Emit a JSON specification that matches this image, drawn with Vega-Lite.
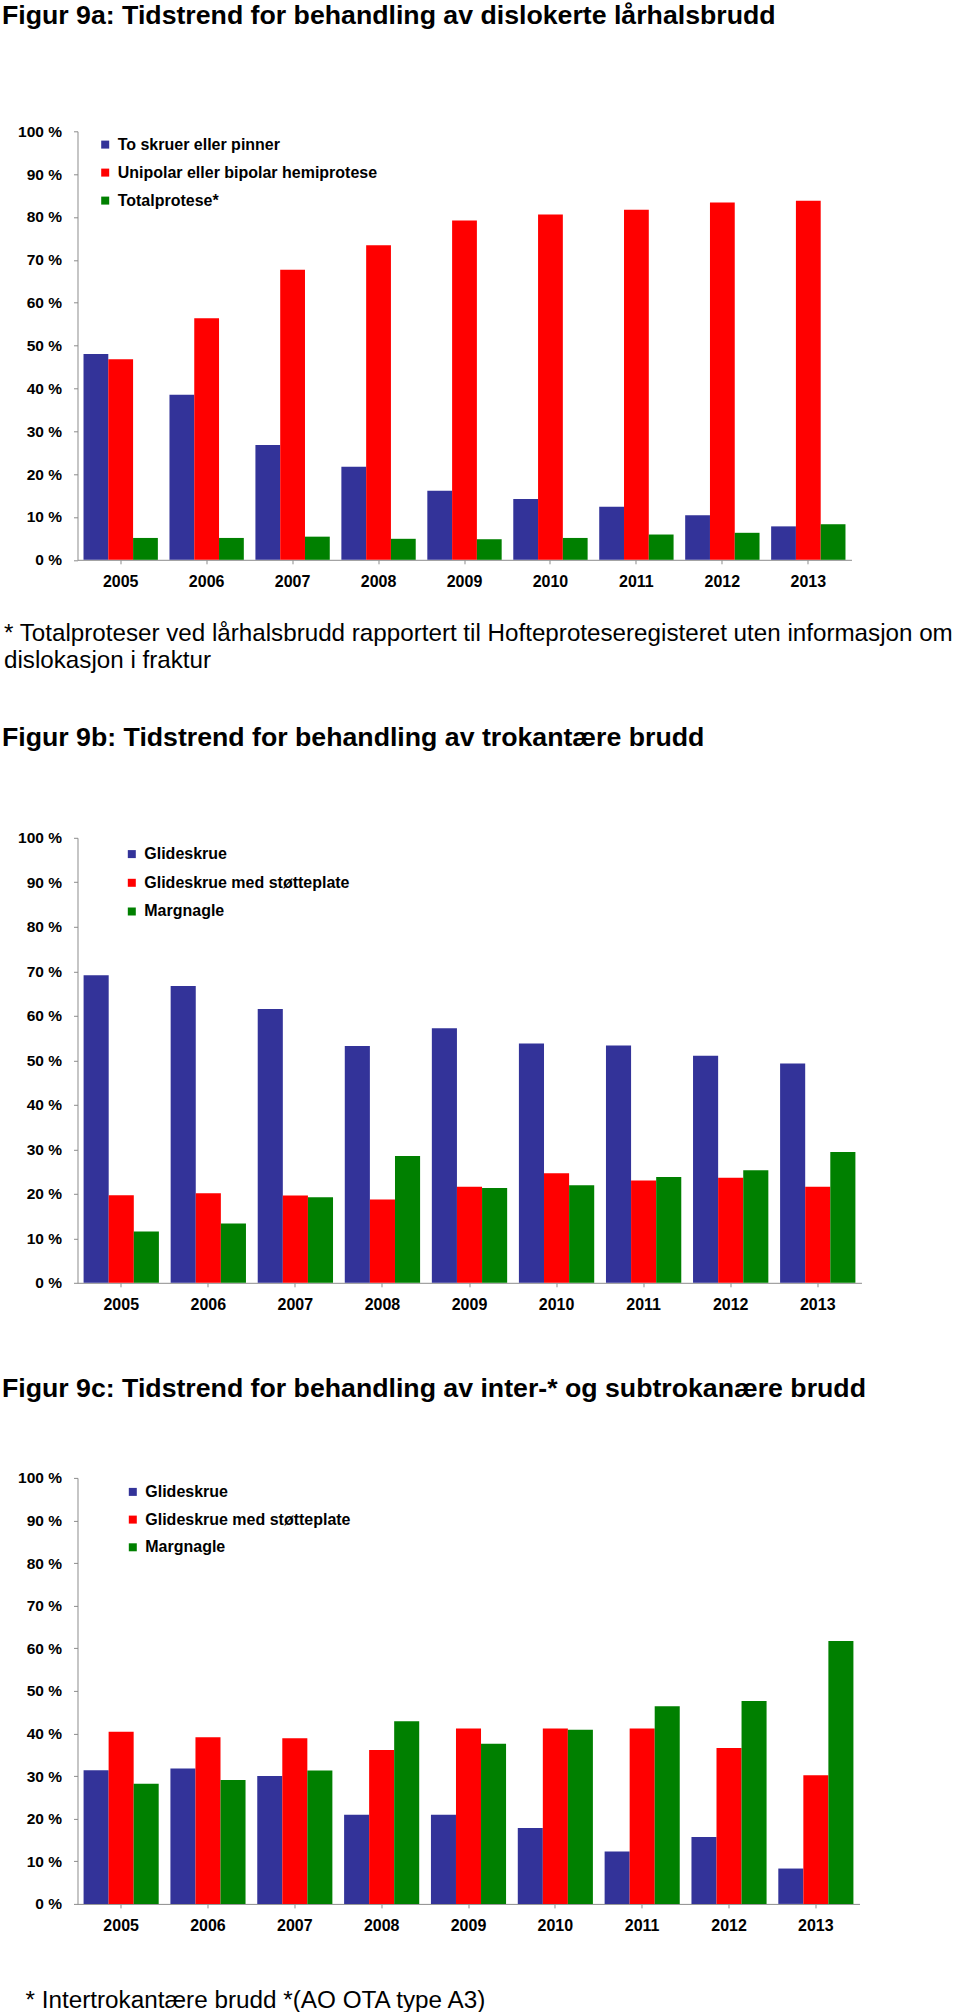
{
  "$schema": "https://vega.github.io/schema/vega-lite/v6.json",
  "padding": {"left": 1.5, "top": 2.3, "right": 0, "bottom": 0},
  "autosize": {"type": "pad"},
  "background": "white",
  "config": {
    "font": "Liberation Sans",
    "view": {"stroke": null},
    "axis": {"domainColor": "#8c8c8c", "tickColor": "#8c8c8c", "tickSize": 4, "labelColor": "#000000", "labelFontWeight": "bold", "grid": false, "domainWidth": 1, "tickWidth": 1, "titleColor": "#000000"},
    "axisX": {"labelFontSize": 16, "labelPadding": 9.5, "labelAngle": 0},
    "axisY": {"labelFontSize": 15.5, "labelPadding": 12},
    "legend": {"labelFontSize": 16, "labelFontWeight": "bold", "labelColor": "#000000", "labelLimit": 500, "symbolType": "square", "symbolSize": 64, "symbolStrokeWidth": 0, "labelOffset": 4.5, "padding": 0, "orient": "none"},
    "title": {"anchor": "start", "frame": "group", "fontSize": 26.7, "fontWeight": "bold", "color": "#000000", "dx": -75.5, "baseline": "alphabetic"}
  },
  "datasets": {
    "a": [
      {"year": "2005", "series": "To skruer eller pinner", "value": 48.0},
      {"year": "2005", "series": "Unipolar eller bipolar hemiprotese", "value": 46.8},
      {"year": "2005", "series": "Totalprotese*", "value": 5.1},
      {"year": "2006", "series": "To skruer eller pinner", "value": 38.5},
      {"year": "2006", "series": "Unipolar eller bipolar hemiprotese", "value": 56.4},
      {"year": "2006", "series": "Totalprotese*", "value": 5.1},
      {"year": "2007", "series": "To skruer eller pinner", "value": 26.8},
      {"year": "2007", "series": "Unipolar eller bipolar hemiprotese", "value": 67.7},
      {"year": "2007", "series": "Totalprotese*", "value": 5.4},
      {"year": "2008", "series": "To skruer eller pinner", "value": 21.7},
      {"year": "2008", "series": "Unipolar eller bipolar hemiprotese", "value": 73.4},
      {"year": "2008", "series": "Totalprotese*", "value": 4.9},
      {"year": "2009", "series": "To skruer eller pinner", "value": 16.1},
      {"year": "2009", "series": "Unipolar eller bipolar hemiprotese", "value": 79.2},
      {"year": "2009", "series": "Totalprotese*", "value": 4.8},
      {"year": "2010", "series": "To skruer eller pinner", "value": 14.2},
      {"year": "2010", "series": "Unipolar eller bipolar hemiprotese", "value": 80.6},
      {"year": "2010", "series": "Totalprotese*", "value": 5.1},
      {"year": "2011", "series": "To skruer eller pinner", "value": 12.4},
      {"year": "2011", "series": "Unipolar eller bipolar hemiprotese", "value": 81.7},
      {"year": "2011", "series": "Totalprotese*", "value": 5.9},
      {"year": "2012", "series": "To skruer eller pinner", "value": 10.4},
      {"year": "2012", "series": "Unipolar eller bipolar hemiprotese", "value": 83.4},
      {"year": "2012", "series": "Totalprotese*", "value": 6.3},
      {"year": "2013", "series": "To skruer eller pinner", "value": 7.8},
      {"year": "2013", "series": "Unipolar eller bipolar hemiprotese", "value": 83.8},
      {"year": "2013", "series": "Totalprotese*", "value": 8.3}
    ],
    "b": [
      {"year": "2005", "series": "Glideskrue", "value": 69.1},
      {"year": "2005", "series": "Glideskrue med støtteplate", "value": 19.7},
      {"year": "2005", "series": "Margnagle", "value": 11.5},
      {"year": "2006", "series": "Glideskrue", "value": 66.7},
      {"year": "2006", "series": "Glideskrue med støtteplate", "value": 20.1},
      {"year": "2006", "series": "Margnagle", "value": 13.3},
      {"year": "2007", "series": "Glideskrue", "value": 61.5},
      {"year": "2007", "series": "Glideskrue med støtteplate", "value": 19.6},
      {"year": "2007", "series": "Margnagle", "value": 19.2},
      {"year": "2008", "series": "Glideskrue", "value": 53.2},
      {"year": "2008", "series": "Glideskrue med støtteplate", "value": 18.7},
      {"year": "2008", "series": "Margnagle", "value": 28.5},
      {"year": "2009", "series": "Glideskrue", "value": 57.2},
      {"year": "2009", "series": "Glideskrue med støtteplate", "value": 21.6},
      {"year": "2009", "series": "Margnagle", "value": 21.3},
      {"year": "2010", "series": "Glideskrue", "value": 53.8},
      {"year": "2010", "series": "Glideskrue med støtteplate", "value": 24.6},
      {"year": "2010", "series": "Margnagle", "value": 21.9},
      {"year": "2011", "series": "Glideskrue", "value": 53.3},
      {"year": "2011", "series": "Glideskrue med støtteplate", "value": 23.0},
      {"year": "2011", "series": "Margnagle", "value": 23.8},
      {"year": "2012", "series": "Glideskrue", "value": 51.0},
      {"year": "2012", "series": "Glideskrue med støtteplate", "value": 23.6},
      {"year": "2012", "series": "Margnagle", "value": 25.3},
      {"year": "2013", "series": "Glideskrue", "value": 49.3},
      {"year": "2013", "series": "Glideskrue med støtteplate", "value": 21.6},
      {"year": "2013", "series": "Margnagle", "value": 29.4}
    ],
    "c": [
      {"year": "2005", "series": "Glideskrue", "value": 31.4},
      {"year": "2005", "series": "Glideskrue med støtteplate", "value": 40.4},
      {"year": "2005", "series": "Margnagle", "value": 28.2},
      {"year": "2006", "series": "Glideskrue", "value": 31.8},
      {"year": "2006", "series": "Glideskrue med støtteplate", "value": 39.1},
      {"year": "2006", "series": "Margnagle", "value": 29.1},
      {"year": "2007", "series": "Glideskrue", "value": 30.0},
      {"year": "2007", "series": "Glideskrue med støtteplate", "value": 38.9},
      {"year": "2007", "series": "Margnagle", "value": 31.3},
      {"year": "2008", "series": "Glideskrue", "value": 20.9},
      {"year": "2008", "series": "Glideskrue med støtteplate", "value": 36.1},
      {"year": "2008", "series": "Margnagle", "value": 42.9},
      {"year": "2009", "series": "Glideskrue", "value": 20.9},
      {"year": "2009", "series": "Glideskrue med støtteplate", "value": 41.2},
      {"year": "2009", "series": "Margnagle", "value": 37.6},
      {"year": "2010", "series": "Glideskrue", "value": 17.8},
      {"year": "2010", "series": "Glideskrue med støtteplate", "value": 41.2},
      {"year": "2010", "series": "Margnagle", "value": 40.9},
      {"year": "2011", "series": "Glideskrue", "value": 12.3},
      {"year": "2011", "series": "Glideskrue med støtteplate", "value": 41.2},
      {"year": "2011", "series": "Margnagle", "value": 46.4},
      {"year": "2012", "series": "Glideskrue", "value": 15.7},
      {"year": "2012", "series": "Glideskrue med støtteplate", "value": 36.6},
      {"year": "2012", "series": "Margnagle", "value": 47.6},
      {"year": "2013", "series": "Glideskrue", "value": 8.3},
      {"year": "2013", "series": "Glideskrue med støtteplate", "value": 30.2},
      {"year": "2013", "series": "Margnagle", "value": 61.7}
    ]
  },
  "spacing": 63.6,
  "resolve": {"scale": {"color": "independent", "x": "independent", "y": "independent", "xOffset": "independent"}, "legend": {"color": "independent"}},
  "vconcat": [
    {
      "bounds": "flush",
      "spacing": 277.5,
      "resolve": {"scale": {"color": "independent", "x": "independent", "y": "independent", "xOffset": "independent"}, "legend": {"color": "independent"}},
      "vconcat": [
        {
          "data": {"name": "a"},
          "width": 774,
          "height": 428.5,
          "title": {"text": "Figur 9a: Tidstrend for behandling av dislokerte lårhalsbrudd", "offset": 95},
          "mark": {"type": "bar"},
          "encoding": {
            "x": {"field": "year", "type": "nominal", "scale": {"paddingInner": 0.135, "paddingOuter": 0.07},
              "axis": {"title": ["* Totalproteser ved lårhalsbrudd rapportert til Hofteproteseregisteret uten informasjon om", "dislokasjon i fraktur"],
                "titleFontSize": 24.2, "titleFontWeight": "normal", "titleAlign": "left", "titleBaseline": "alphabetic", "titleAnchor": "start", "titleX": -74, "titleY": 80.5, "titleLineHeight": 27}},
            "y": {"field": "value", "type": "quantitative", "scale": {"domain": [0, 100], "nice": false},
              "axis": {"title": null, "values": [0, 10, 20, 30, 40, 50, 60, 70, 80, 90, 100], "labelExpr": "datum.value + ' %'"}},
            "xOffset": {"field": "series", "sort": ["To skruer eller pinner", "Unipolar eller bipolar hemiprotese", "Totalprotese*"], "scale": {"paddingInner": 0, "paddingOuter": 0}},
            "color": {"field": "series", "type": "nominal",
              "scale": {"domain": ["To skruer eller pinner", "Unipolar eller bipolar hemiprotese", "Totalprotese*"], "range": ["#333399", "#ff0000", "#008000"]},
              "legend": {"title": null, "legendX": 19.7, "legendY": 5.3, "rowPadding": 12}}
          }
        },
        {
          "data": {"name": "b"},
          "width": 784,
          "height": 445,
          "title": {"text": "Figur 9b: Tidstrend for behandling av trokantære brudd", "offset": 79},
          "mark": {"type": "bar"},
          "encoding": {
            "x": {"field": "year", "type": "nominal", "scale": {"paddingInner": 0.135, "paddingOuter": 0.07}, "axis": {"title": null}},
            "y": {"field": "value", "type": "quantitative", "scale": {"domain": [0, 100], "nice": false},
              "axis": {"title": null, "values": [0, 10, 20, 30, 40, 50, 60, 70, 80, 90, 100], "labelExpr": "datum.value + ' %'"}},
            "xOffset": {"field": "series", "sort": ["Glideskrue", "Glideskrue med støtteplate", "Margnagle"], "scale": {"paddingInner": 0, "paddingOuter": 0}},
            "color": {"field": "series", "type": "nominal",
              "scale": {"domain": ["Glideskrue", "Glideskrue med støtteplate", "Margnagle"], "range": ["#333399", "#ff0000", "#008000"]},
              "legend": {"title": null, "legendX": 46.3, "legendY": 8.3, "rowPadding": 12.7}}
          }
        }
      ]
    },
    {
      "data": {"name": "c"},
      "width": 782,
      "height": 426,
      "title": {"text": "Figur 9c: Tidstrend for behandling av inter-* og subtrokanære brudd", "offset": 68},
      "mark": {"type": "bar"},
      "encoding": {
        "x": {"field": "year", "type": "nominal", "scale": {"paddingInner": 0.135, "paddingOuter": 0.07},
          "axis": {"title": "* Intertrokantære brudd *(AO OTA type A3)", "titleFontSize": 24.3, "titleFontWeight": "normal", "titleAlign": "left", "titleBaseline": "alphabetic", "titleAnchor": "start", "titleX": -52.5, "titleY": 103.3}},
        "y": {"field": "value", "type": "quantitative", "scale": {"domain": [0, 100], "nice": false},
          "axis": {"title": null, "values": [0, 10, 20, 30, 40, 50, 60, 70, 80, 90, 100], "labelExpr": "datum.value + ' %'"}},
        "xOffset": {"field": "series", "sort": ["Glideskrue", "Glideskrue med støtteplate", "Margnagle"], "scale": {"paddingInner": 0, "paddingOuter": 0}},
        "color": {"field": "series", "type": "nominal",
          "scale": {"domain": ["Glideskrue", "Glideskrue med støtteplate", "Margnagle"], "range": ["#333399", "#ff0000", "#008000"]},
          "legend": {"title": null, "legendX": 47.3, "legendY": 6, "rowPadding": 11.7}}
      }
    }
  ]
}
